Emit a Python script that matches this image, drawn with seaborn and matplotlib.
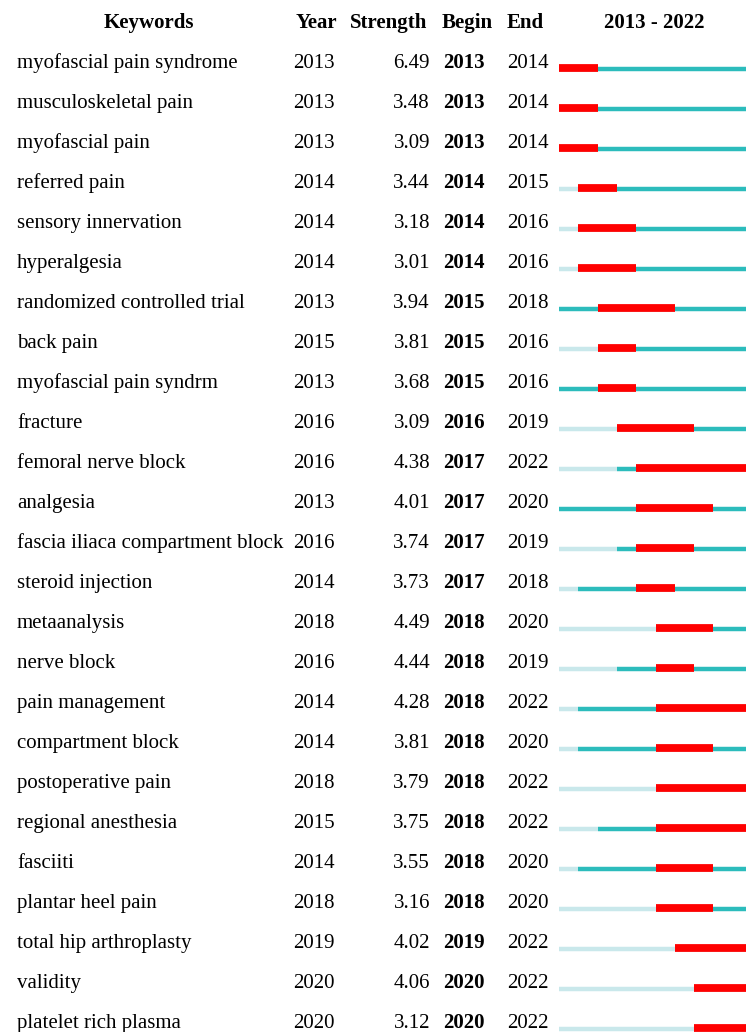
import numpy as np
import pandas as pd
import matplotlib
matplotlib.use("Agg")
import matplotlib.pyplot as plt
import seaborn as sns

# burst keyword table (CiteSpace style)
keywords = ["myofascial pain syndrome", "musculoskeletal pain", "myofascial pain",
            "referred pain", "sensory innervation", "hyperalgesia",
            "randomized controlled trial", "back pain", "myofascial pain syndrm",
            "fracture", "femoral nerve block", "analgesia",
            "fascia iliaca compartment block", "steroid injection", "metaanalysis",
            "nerve block", "pain management", "compartment block",
            "postoperative pain", "regional anesthesia", "fasciiti",
            "plantar heel pain", "total hip arthroplasty", "validity",
            "platelet rich plasma"]
years = [2013, 2013, 2013, 2014, 2014, 2014, 2013, 2015, 2013, 2016, 2016, 2013,
         2016, 2014, 2018, 2016, 2014, 2014, 2018, 2015, 2014, 2018, 2019, 2020, 2020]
strengths = [6.49, 3.48, 3.09, 3.44, 3.18, 3.01, 3.94, 3.81, 3.68, 3.09, 4.38, 4.01,
             3.74, 3.73, 4.49, 4.44, 4.28, 3.81, 3.79, 3.75, 3.55, 3.16, 4.02, 4.06, 3.12]
begins = [2013, 2013, 2013, 2014, 2014, 2014, 2015, 2015, 2015, 2016, 2017, 2017,
          2017, 2017, 2018, 2018, 2018, 2018, 2018, 2018, 2018, 2018, 2019, 2020, 2020]
ends = [2014, 2014, 2014, 2015, 2016, 2016, 2018, 2016, 2016, 2019, 2022, 2020,
        2019, 2018, 2020, 2019, 2022, 2020, 2022, 2022, 2020, 2020, 2022, 2022, 2022]
start_year, end_year = 2013, 2022

df = pd.DataFrame({"kw": keywords, "year": years, "strength": strengths,
                   "begin": begins, "end": ends})

sns.set_style("white")
plt.rcParams["font.family"] = ["Liberation Serif", "DejaVu Serif"]

W, H = 746, 1032
fig = plt.figure(figsize=(W / 100, H / 100), dpi=100)

# table text axes in pixel coordinates
tx = fig.add_axes([0, 0, 1, 1])
tx.set_xlim(0, W)
tx.set_ylim(H, 0)
tx.axis("off")

fs = 15
hy = 28  # header baseline
hdr = dict(ha="center", va="baseline", fontsize=fs, fontweight="bold", color="black")
tx.text(149, hy, "Keywords", **hdr)
tx.text(316, hy, "Year", **hdr)
tx.text(389, hy, "Strength", **hdr)
tx.text(467, hy, "Begin", **hdr)
tx.text(525, hy, "End", **hdr)
tx.text(654, hy, f"{start_year} - {end_year}", **hdr)

cell = dict(va="baseline", fontsize=fs, color="black")
for i, r in df.iterrows():
    y = 68 + 40 * i
    tx.text(17, y, r.kw, ha="left", **cell)
    tx.text(293, y, str(r.year), ha="left", **cell)
    tx.text(430, y, f"{r.strength:.2f}", ha="right", **cell)
    tx.text(443, y, str(r.begin), ha="left", fontweight="bold", **cell)
    tx.text(507, y, str(r.end), ha="left", **cell)

# timeline axes: x in years, y in row index
x0, x1 = 559, 752
ax = fig.add_axes([x0 / W, 0, (x1 - x0) / W, 1])
ax.set_xlim(start_year, end_year + 1)
ax.set_ylim((H - 68) / 40, -68 / 40)
ax.axis("off")

light, teal, red = "#c9e8eb", "#2cbcbc", "#ff0000"
rows = np.arange(len(df))
ax.hlines(rows + 0.02, start_year, df["year"], color=light, lw=3.2)
ax.hlines(rows + 0.02, df["year"], end_year + 1, color=teal, lw=3.2)
ax.hlines(rows - 0.01, df["begin"], df["end"] + 1, color=red, lw=5.6)

fig.savefig("out.png", dpi=100)
